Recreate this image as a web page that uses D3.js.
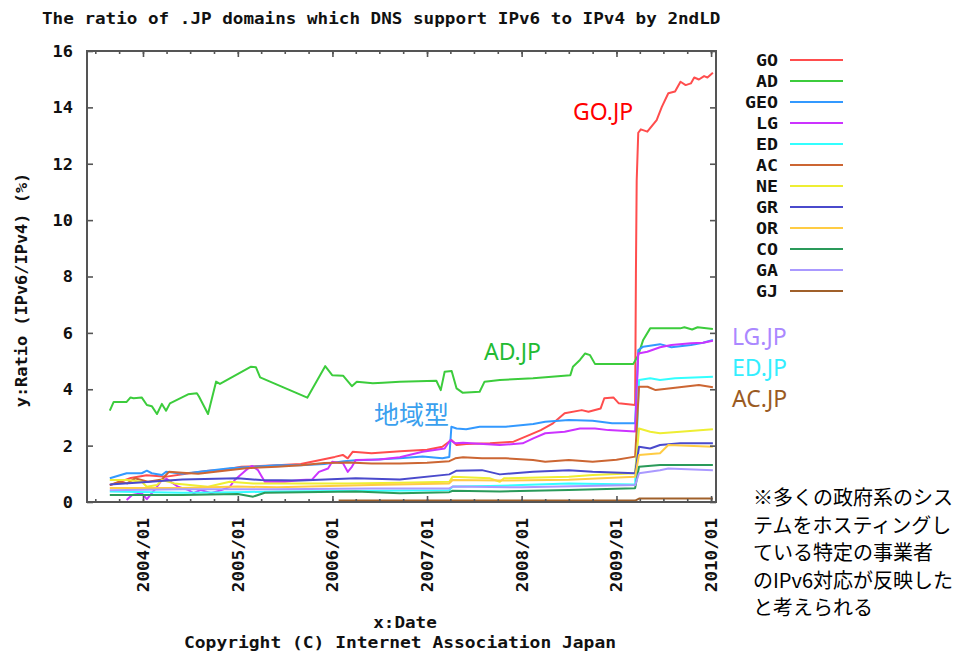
<!DOCTYPE html>
<html>
<head>
<meta charset="utf-8">
<script src="https://cdn.jsdelivr.net/npm/d3@7"></script>
<style>
  body { margin: 0; background: #ffffff; }
  svg { display: block; }
</style>
</head>
<body>
<svg id="chart" width="968" height="653"></svg>
<script>
// ---- data: ratio (%) of IPv6-capable DNS to IPv4, per second-level domain ----
const seriesNames = ["GO", "AD", "GEO", "LG", "ED", "AC", "NE", "GR", "OR", "CO", "GA", "GJ"];

const GO = [
  ["2003-08-26", 0.60], ["2003-10-01", 0.70], ["2003-11-15", 0.85], ["2004-01-15", 0.95],
  ["2004-04-01", 0.90], ["2004-06-15", 1.00], ["2004-09-01", 1.10], ["2004-11-15", 1.15],
  ["2005-01-15", 1.25], ["2005-06-01", 1.30], ["2005-09-01", 1.35], ["2005-11-20", 1.50],
  ["2006-01-10", 1.60], ["2006-02-10", 1.67], ["2006-03-01", 1.55], ["2006-03-20", 1.78],
  ["2006-06-01", 1.73], ["2006-09-20", 1.80], ["2007-01-01", 1.85], ["2007-03-01", 1.96],
  ["2007-04-05", 2.20], ["2007-04-25", 2.02], ["2007-06-01", 2.06], ["2007-09-01", 2.08],
  ["2007-12-01", 2.14], ["2008-02-01", 2.38], ["2008-03-15", 2.55], ["2008-05-01", 2.79],
  ["2008-06-15", 3.15], ["2008-08-20", 3.26], ["2008-09-15", 3.20], ["2008-11-01", 3.32],
  ["2008-11-15", 3.68], ["2008-12-20", 3.71], ["2009-01-10", 3.50], ["2009-03-14", 3.44],
  ["2009-03-17", 8.10], ["2009-03-20", 11.40], ["2009-03-26", 13.10], ["2009-04-05", 13.22],
  ["2009-04-30", 13.14], ["2009-06-05", 13.55], ["2009-06-25", 14.02], ["2009-07-20", 14.50],
  ["2009-08-15", 14.56], ["2009-09-05", 14.91], ["2009-09-25", 14.79], ["2009-10-15", 14.85],
  ["2009-10-28", 15.06], ["2009-11-15", 14.99], ["2009-12-05", 15.11], ["2009-12-18", 15.06],
  ["2010-01-08", 15.23]
];
const AD = [
  ["2003-08-26", 3.24], ["2003-09-10", 3.55], ["2003-10-30", 3.55], ["2003-11-14", 3.71],
  ["2003-11-26", 3.68], ["2003-12-27", 3.71], ["2004-01-16", 3.44], ["2004-02-04", 3.40],
  ["2004-02-24", 3.12], ["2004-03-14", 3.48], ["2004-03-30", 3.24], ["2004-04-14", 3.50],
  ["2004-06-23", 3.82], ["2004-07-27", 3.86], ["2004-08-04", 3.74], ["2004-09-08", 3.12],
  ["2004-10-09", 4.27], ["2004-10-24", 4.19], ["2005-02-21", 4.80], ["2005-03-12", 4.78],
  ["2005-03-28", 4.42], ["2005-09-26", 3.70], ["2005-12-04", 4.82], ["2005-12-31", 4.50],
  ["2006-02-11", 4.48], ["2006-03-17", 4.11], ["2006-04-05", 4.27], ["2006-06-06", 4.21],
  ["2006-07-15", 4.23], ["2006-09-18", 4.27], ["2007-02-06", 4.30], ["2007-02-23", 3.97],
  ["2007-03-10", 4.62], ["2007-04-06", 4.65], ["2007-04-25", 4.03], ["2007-05-18", 3.88],
  ["2007-07-23", 3.91], ["2007-08-11", 4.27], ["2007-10-09", 4.33], ["2008-02-14", 4.39],
  ["2008-07-07", 4.50], ["2008-07-17", 4.80], ["2008-08-13", 5.04], ["2008-09-02", 5.27],
  ["2008-09-21", 5.21], ["2008-10-10", 4.90], ["2009-03-07", 4.90], ["2009-03-26", 5.21],
  ["2009-04-14", 5.75], ["2009-05-11", 6.16], ["2009-09-04", 6.16], ["2009-09-20", 6.20],
  ["2009-10-20", 6.12], ["2009-11-10", 6.20], ["2010-01-08", 6.14]
];
const GEO = [
  ["2003-08-26", 0.84], ["2003-10-30", 1.02], ["2003-12-27", 1.02], ["2004-01-16", 1.11],
  ["2004-02-04", 1.02], ["2004-03-14", 0.96], ["2004-03-30", 1.07], ["2004-06-01", 1.00],
  ["2004-09-01", 1.10], ["2004-12-01", 1.20], ["2005-03-01", 1.25], ["2005-06-01", 1.30],
  ["2005-09-01", 1.30], ["2005-12-01", 1.35], ["2006-02-15", 1.45], ["2006-04-01", 1.48],
  ["2006-06-01", 1.50], ["2006-09-18", 1.55], ["2006-12-15", 1.61], ["2007-03-01", 1.55],
  ["2007-03-28", 1.60], ["2007-04-05", 2.67], ["2007-04-25", 2.61], ["2007-06-01", 2.58],
  ["2007-07-23", 2.67], ["2007-11-01", 2.67], ["2008-02-15", 2.77], ["2008-04-01", 2.85],
  ["2008-07-01", 2.91], ["2008-10-01", 2.88], ["2008-12-15", 2.79], ["2009-03-14", 2.79],
  ["2009-03-26", 5.39], ["2009-04-14", 5.51], ["2009-06-18", 5.60], ["2009-08-01", 5.49],
  ["2009-10-15", 5.57], ["2009-12-01", 5.65], ["2010-01-08", 5.75]
];
const LG = [
  ["2003-10-30", 0.07], ["2003-11-20", 0.25], ["2003-12-27", 0.31], ["2004-01-16", 0.10],
  ["2004-02-04", 0.31], ["2004-02-24", 0.54], ["2004-03-14", 0.78], ["2004-04-01", 0.82],
  ["2004-05-15", 0.54], ["2004-06-23", 0.43], ["2004-07-15", 0.31], ["2004-08-10", 0.43],
  ["2004-09-20", 0.31], ["2004-11-01", 0.43], ["2004-12-01", 0.54], ["2004-12-20", 0.78],
  ["2005-02-01", 1.13], ["2005-02-25", 1.28], ["2005-03-20", 1.13], ["2005-04-15", 0.72],
  ["2005-07-01", 0.72], ["2005-09-01", 0.78], ["2005-10-15", 0.80], ["2005-11-10", 1.07],
  ["2005-12-15", 1.19], ["2005-12-31", 1.43], ["2006-02-11", 1.37], ["2006-03-01", 1.07],
  ["2006-03-17", 1.25], ["2006-04-01", 1.49], ["2006-07-01", 1.51], ["2006-09-18", 1.59],
  ["2006-12-15", 1.78], ["2007-03-10", 1.90], ["2007-04-01", 2.20], ["2007-04-20", 2.08],
  ["2007-05-20", 2.10], ["2007-10-09", 2.02], ["2008-01-05", 2.08], ["2008-02-15", 2.26],
  ["2008-04-01", 2.44], ["2008-06-15", 2.49], ["2008-08-13", 2.61], ["2008-10-10", 2.61],
  ["2008-12-01", 2.55], ["2009-03-14", 2.50], ["2009-03-26", 5.27], ["2009-04-30", 5.33],
  ["2009-06-18", 5.49], ["2009-08-01", 5.57], ["2009-10-15", 5.63], ["2009-12-01", 5.65],
  ["2010-01-08", 5.72]
];
const ED = [
  ["2003-08-26", 0.37], ["2004-06-01", 0.33], ["2005-01-01", 0.35], ["2005-06-01", 0.37],
  ["2006-06-01", 0.40], ["2007-03-28", 0.42], ["2007-04-10", 0.55], ["2007-09-01", 0.57],
  ["2008-01-01", 0.60], ["2008-07-01", 0.66], ["2009-03-14", 0.62], ["2009-03-29", 4.33],
  ["2009-05-11", 4.39], ["2009-06-18", 4.33], ["2009-08-15", 4.39], ["2010-01-08", 4.44]
];
const AC = [
  ["2003-08-26", 0.60], ["2003-10-01", 0.72], ["2003-11-01", 0.66], ["2003-12-01", 0.84],
  ["2004-01-20", 0.72], ["2004-03-14", 0.80], ["2004-04-10", 1.07], ["2004-06-01", 1.04],
  ["2004-08-01", 1.00], ["2004-11-01", 1.10], ["2005-02-01", 1.20], ["2005-06-01", 1.25],
  ["2005-09-01", 1.30], ["2005-12-01", 1.38], ["2006-03-01", 1.40], ["2006-06-01", 1.37],
  ["2006-09-18", 1.37], ["2007-01-01", 1.39], ["2007-03-28", 1.45], ["2007-04-20", 1.55],
  ["2007-05-20", 1.59], ["2007-08-01", 1.55], ["2007-11-01", 1.55], ["2008-02-14", 1.49],
  ["2008-04-01", 1.43], ["2008-07-01", 1.49], ["2008-10-01", 1.43], ["2009-01-01", 1.50],
  ["2009-03-14", 1.61], ["2009-03-29", 4.09], ["2009-05-01", 4.09], ["2009-06-01", 3.97],
  ["2009-09-01", 4.07], ["2009-11-15", 4.15], ["2010-01-08", 4.07]
];
const NE = [
  ["2003-08-26", 0.78], ["2003-11-01", 0.78], ["2003-12-27", 0.72], ["2004-01-16", 0.54],
  ["2004-02-24", 0.60], ["2004-03-14", 0.78], ["2004-05-01", 0.66], ["2004-09-08", 0.54],
  ["2004-12-01", 0.72], ["2005-03-01", 0.66], ["2005-09-01", 0.66], ["2006-03-01", 0.66],
  ["2006-09-18", 0.68], ["2007-03-28", 0.72], ["2007-04-10", 0.90], ["2007-09-01", 0.84],
  ["2007-10-09", 0.72], ["2007-10-25", 0.84], ["2008-07-01", 0.90], ["2008-10-01", 0.96],
  ["2009-03-14", 1.02], ["2009-03-29", 2.61], ["2009-05-11", 2.49], ["2009-06-18", 2.44],
  ["2009-09-04", 2.49], ["2010-01-08", 2.58]
];
const GR = [
  ["2003-08-26", 0.62], ["2004-01-01", 0.70], ["2004-06-01", 0.80], ["2005-01-01", 0.84],
  ["2005-04-01", 0.78], ["2005-09-01", 0.76], ["2006-04-01", 0.84], ["2006-09-18", 0.80],
  ["2007-03-28", 0.98], ["2007-04-25", 1.11], ["2007-08-01", 1.13], ["2007-10-09", 0.98],
  ["2008-02-14", 1.07], ["2008-07-01", 1.13], ["2008-10-01", 1.07], ["2009-03-14", 1.02],
  ["2009-03-29", 1.96], ["2009-05-11", 1.90], ["2009-06-18", 2.02], ["2009-09-04", 2.08],
  ["2010-01-08", 2.08]
];
const OR = [
  ["2003-08-26", 0.50], ["2004-06-01", 0.50], ["2005-01-01", 0.55], ["2005-06-01", 0.52],
  ["2006-06-01", 0.60], ["2007-03-28", 0.66], ["2007-04-10", 0.78], ["2007-10-09", 0.76],
  ["2008-07-01", 0.79], ["2009-03-14", 0.90], ["2009-03-29", 1.67], ["2009-06-18", 1.73],
  ["2009-07-20", 2.02], ["2010-01-08", 1.96]
];
const CO = [
  ["2003-08-26", 0.25], ["2004-06-01", 0.25], ["2005-01-01", 0.28], ["2005-03-01", 0.19],
  ["2005-04-15", 0.33], ["2006-04-01", 0.37], ["2006-09-18", 0.31], ["2007-03-28", 0.35],
  ["2007-04-10", 0.40], ["2007-10-09", 0.37], ["2008-07-01", 0.43], ["2009-03-14", 0.49],
  ["2009-03-29", 1.25], ["2009-06-18", 1.31], ["2010-01-08", 1.31]
];
const GA = [
  ["2003-08-26", 0.42], ["2004-06-01", 0.45], ["2005-06-01", 0.45], ["2006-06-01", 0.48],
  ["2007-03-28", 0.48], ["2007-04-10", 0.55], ["2008-01-01", 0.52], ["2009-03-14", 0.60],
  ["2009-03-29", 1.02], ["2009-06-18", 1.13], ["2009-07-20", 1.19], ["2010-01-08", 1.13]
];
const GJ = [
  ["2006-01-25", 0.05], ["2009-03-14", 0.05], ["2009-03-29", 0.12], ["2010-01-08", 0.12]
];

const seriesValues = [GO, AD, GEO, LG, ED, AC, NE, GR, OR, CO, GA, GJ];
const yTicks = [0, 2, 4, 6, 8, 10, 12, 14, 16];
const xTickLabels = ["2004/01", "2005/01", "2006/01", "2007/01", "2008/01", "2009/01", "2010/01"];

// ---- styling ----
const lineColors = ["#ff4d4d", "#3ccc3c", "#3399ff", "#cc33ff", "#33ffff", "#cc6633",
                    "#eeee33", "#4a4acc", "#ffcc44", "#2a9a5a", "#aa99ff", "#a0602a"];
const mono = "'DejaVu Sans Mono', monospace";

const svg = d3.select("#chart");
const parse = d3.timeParse("%Y-%m-%d");
const parseTick = d3.timeParse("%Y/%m");

const plot = { left: 87, right: 716, top: 51, bottom: 502 };
const x = d3.scaleTime()
  .domain([parse("2003-05-30"), parse("2010-01-20")])
  .range([plot.left, plot.right]);
const y = d3.scaleLinear().domain([0, 16]).range([plot.bottom, plot.top]);

// monospace text stretched to the wide bitmap-style glyph pitch
function monoText(g, str, pitch) {
  return g.append("text")
    .attr("font-family", mono).attr("font-weight", "bold")
    .attr("textLength", str.length * pitch)
    .attr("lengthAdjust", "spacingAndGlyphs")
    .attr("fill", "#111")
    .text(str);
}

// title
monoText(svg, "The ratio of .JP domains which DNS support IPv6 to IPv4 by 2ndLD", 10.6)
  .attr("x", 42).attr("y", 24).attr("font-size", 15);

// series lines (drawn in legend order)
const line = d3.line().x(d => x(parse(d[0]))).y(d => y(d[1]));
const linesG = svg.append("g").attr("fill", "none").attr("stroke-width", 2)
  .attr("stroke-linejoin", "round");
seriesValues.forEach((vals, i) => {
  linesG.append("path").datum(vals).attr("stroke", lineColors[i]).attr("d", line);
});

// axes with inward ticks
const axisStroke = "#555";
const yearTicks = xTickLabels.map(s => parseTick(s));
const quarterTicks = d3.timeMonth.every(3).range(x.domain()[0], x.domain()[1]);

function styleAxis(g) {
  g.select(".domain").remove();
  g.selectAll(".tick line").attr("stroke", axisStroke).attr("stroke-width", 1.6);
}

svg.append("g").attr("transform", `translate(0,${plot.bottom})`)
  .call(d3.axisBottom(x).tickValues(quarterTicks).tickSize(-3).tickFormat(""))
  .call(styleAxis);
svg.append("g").attr("transform", `translate(0,${plot.top})`)
  .call(d3.axisTop(x).tickValues(quarterTicks).tickSize(-3).tickFormat(""))
  .call(styleAxis);
svg.append("g").attr("transform", `translate(0,${plot.top})`)
  .call(d3.axisTop(x).tickValues(yearTicks).tickSize(-6).tickFormat(""))
  .call(styleAxis);

const xAxis = svg.append("g").attr("transform", `translate(0,${plot.bottom})`)
  .call(d3.axisBottom(x).tickValues(yearTicks).tickSize(-6).tickFormat(d3.timeFormat("%Y/%m")))
  .call(styleAxis);
xAxis.selectAll(".tick text").remove();
xAxis.selectAll(".tick").each(function (d, i) {
  monoText(d3.select(this), xTickLabels[i], 10.6)
    .attr("font-size", 15)
    .attr("text-anchor", "end")
    .attr("transform", "translate(0,16) rotate(-90)")
    .attr("dy", "0.36em");
});

const yAxis = svg.append("g").attr("transform", `translate(${plot.left},0)`)
  .call(d3.axisLeft(y).tickValues(yTicks).tickSize(-6).tickFormat(""))
  .call(styleAxis);
yAxis.selectAll(".tick").each(function (d) {
  const s = String(d);
  monoText(d3.select(this), s, 10.2)
    .attr("font-size", 15)
    .attr("text-anchor", "end")
    .attr("x", -14).attr("dy", "0.36em");
});
svg.append("g").attr("transform", `translate(${plot.right},0)`)
  .call(d3.axisRight(y).tickValues(yTicks).tickSize(-6).tickFormat(""))
  .call(styleAxis);

// plot border
svg.append("rect")
  .attr("x", plot.left).attr("y", plot.top)
  .attr("width", plot.right - plot.left).attr("height", plot.bottom - plot.top)
  .attr("fill", "none").attr("stroke", axisStroke).attr("stroke-width", 2);

// axis titles
monoText(svg, "y:Ratio (IPv6/IPv4) (%)", 10.2)
  .attr("font-size", 15).attr("text-anchor", "middle")
  .attr("transform", "translate(27,290) rotate(-90)");
monoText(svg, "x:Date", 10.6)
  .attr("font-size", 15).attr("text-anchor", "middle")
  .attr("x", 405).attr("y", 628);
monoText(svg, "Copyright (C) Internet Association Japan", 10.8)
  .attr("font-size", 15).attr("text-anchor", "middle")
  .attr("x", 400).attr("y", 648);

// legend
const legend = svg.append("g");
seriesNames.forEach((name, i) => {
  const ly = 60 + i * 21;
  monoText(legend, name, 11)
    .attr("font-size", 16).attr("text-anchor", "end")
    .attr("x", 778).attr("y", ly).attr("dy", "0.36em");
  legend.append("line")
    .attr("x1", 790).attr("x2", 843).attr("y1", ly).attr("y2", ly)
    .attr("stroke", lineColors[i]).attr("stroke-width", 2);
});

// callouts
const sans = "'Noto Sans', 'Noto Sans CJK JP', sans-serif";
const callouts = [
  { text: "GO.JP", x: 573, y: 120, color: "#ff0000" },
  { text: "AD.JP", x: 484, y: 360, color: "#22bb33" },
  { text: "地域型", x: 374, y: 424, color: "#3aa0ee" },
  { text: "LG.JP", x: 732, y: 345, color: "#aa88ff" },
  { text: "ED.JP", x: 732, y: 376, color: "#33eeff" },
  { text: "AC.JP", x: 732, y: 407, color: "#9a5a22" }
];
callouts.forEach(c => {
  svg.append("text").attr("x", c.x).attr("y", c.y)
    .attr("font-family", c.text === "地域型" ? "'Noto Sans CJK JP', sans-serif" : sans)
    .attr("font-size", c.text === "地域型" ? 25 : 23)
    .attr("fill", c.color).text(c.text);
});

// footnote
const noteLines = [
  "※多くの政府系のシス",
  "テムをホスティングし",
  "ている特定の事業者",
  "のIPv6対応が反映した",
  "と考えられる"
];
noteLines.forEach((t, i) => {
  svg.append("text")
    .attr("x", 753).attr("y", 505 + i * 27.5)
    .attr("font-family", "'Noto Sans CJK JP', sans-serif")
    .attr("font-size", 20).attr("fill", "#000")
    .text(t);
});
</script>
</body>
</html>
